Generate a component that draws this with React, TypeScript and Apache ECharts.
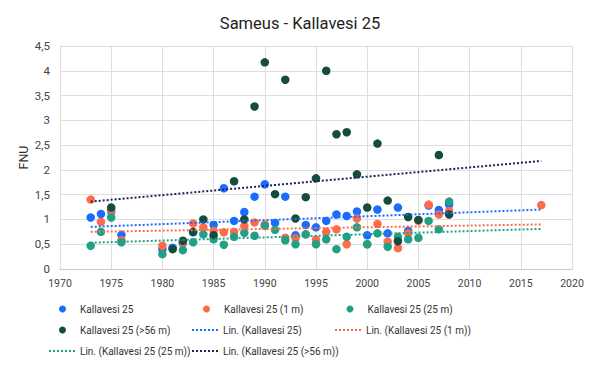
import React, { useEffect, useRef } from "react";
import * as echarts from "echarts";

const titleText = "Sameus - Kallavesi 25";
const yAxisName = "FNU";

const blueYears = [1973, 1974, 1975, 1976, 1980, 1981, 1982, 1983, 1985, 1986, 1987, 1988, 1989, 1990, 1991, 1992, 1993, 1994, 1995, 1996, 1997, 1998, 1999, 2000, 2001, 2002, 2003, 2004, 2006, 2007, 2008];
const blueValues = [1.04, 1.11, 1.16, 0.69, 0.40, 0.43, 0.52, 0.74, 0.89, 1.63, 0.97, 1.15, 1.46, 1.71, 0.93, 1.46, 0.68, 0.89, 0.84, 0.97, 1.10, 1.07, 1.16, 0.68, 1.20, 0.72, 1.24, 0.77, 1.28, 1.19, 1.30];

const orangeYears = [1973, 1974, 1975, 1976, 1980, 1982, 1983, 1984, 1985, 1986, 1987, 1988, 1989, 1990, 1992, 1993, 1994, 1995, 1996, 1997, 1998, 1999, 2000, 2001, 2002, 2003, 2004, 2005, 2006, 2007, 2008, 2017];
const orangeValues = [1.40, 0.95, 1.19, 0.58, 0.47, 0.53, 0.92, 0.84, 0.77, 0.74, 0.75, 0.87, 0.94, 0.90, 0.63, 0.62, 0.70, 0.59, 0.75, 0.80, 0.50, 1.02, 0.50, 0.91, 0.55, 0.42, 0.72, 0.97, 1.30, 1.10, 1.17, 1.29];

const tealYears = [1973, 1974, 1975, 1976, 1980, 1982, 1983, 1984, 1985, 1986, 1987, 1988, 1989, 1990, 1991, 1992, 1993, 1994, 1995, 1996, 1997, 1998, 1999, 2000, 2001, 2002, 2003, 2004, 2005, 2006, 2007, 2008];
const tealValues = [0.47, 0.75, 1.04, 0.54, 0.30, 0.38, 0.54, 0.70, 0.60, 0.49, 0.65, 0.73, 0.67, 0.87, 0.79, 0.58, 0.50, 0.70, 0.50, 0.60, 0.40, 0.65, 0.84, 0.50, 0.72, 0.45, 0.65, 0.60, 0.63, 0.97, 0.80, 1.36];

const darkYears = [1975, 1981, 1982, 1983, 1984, 1985, 1987, 1988, 1989, 1990, 1991, 1992, 1993, 1994, 1995, 1996, 1997, 1998, 1999, 2000, 2001, 2002, 2003, 2004, 2005, 2007, 2008];
const darkValues = [1.24, 0.40, 0.57, 0.75, 1.00, 0.68, 1.77, 1.00, 3.28, 4.17, 1.51, 3.82, 1.02, 1.45, 1.83, 4.00, 2.72, 2.76, 1.91, 1.24, 2.53, 1.38, 0.56, 1.05, 0.99, 2.30, 1.10];

const trendYears = [1973, 2017];
const trendBlue = [0.85, 1.20];
const trendOrange = [0.75, 0.90];
const trendTeal = [0.53, 0.81];
const trendDark = [1.36, 2.18];

const names = [
  "Kallavesi 25",
  "Kallavesi 25 (1 m)",
  "Kallavesi 25 (25 m)",
  "Kallavesi 25 (>56 m)",
  "Lin. (Kallavesi 25)",
  "Lin. (Kallavesi 25 (1 m))",
  "Lin. (Kallavesi 25 (25 m))",
  "Lin. (Kallavesi 25 (>56 m))",
];

const colBlue = "#1a6cff";
const colOrange = "#ff6b4a";
const colTeal = "#22a085";
const colDark = "#164c3e";
const colNavy = "#1c2456";

const pairs = (xs: number[], ys: number[]) => xs.map((x, i) => [x, ys[i]]);

const dottedIcon =
  "path://" +
  [0, 4, 8, 12, 16, 20, 24].map((x) => `M${x},0 h2 v2 h-2 Z`).join(" ");

export default function App() {
  const ref = useRef<HTMLDivElement>(null);
  useEffect(() => {
    if (!ref.current) return;
    const chart = echarts.init(ref.current, undefined, { renderer: "svg" });
    const font = "Roboto, Arial, sans-serif";
    const scatter = (name: string, data: number[][], color: string) => ({
      name,
      type: "scatter",
      data,
      symbolSize: 8.5,
      itemStyle: { color, opacity: 1 },
    });
    const trend = (name: string, data: number[][], color: string) => ({
      name,
      type: "line",
      data,
      symbol: "none",
      lineStyle: { color, width: 2, type: [2, 2] },
      itemStyle: { color },
    });
    const legendPos = [
      [59, 304, true],
      [203, 304, true],
      [346.5, 304, true],
      [59, 325, true],
      [192, 325, false],
      [335, 325, false],
      [49, 346, false],
      [192, 346, false],
    ];
    const legends = names.map((n, i) => {
      const [left, top, isDot] = legendPos[i] as [number, number, boolean];
      return {
        data: [n],
        left: left - 5,
        top: top - 5,
        padding: 5,
        icon: isDot ? "circle" : dottedIcon,
        itemWidth: isDot ? 7 : 26,
        itemHeight: isDot ? 7 : 2,
        textStyle: {
          fontFamily: font,
          fontSize: 10,
          color: "#333",
          padding: isDot ? [0, 0, 0, 9] : 0,
        },
      };
    });
    chart.setOption({
      animation: false,
      title: {
        text: titleText,
        left: "center",
        top: 10,
        textStyle: { fontFamily: font, fontSize: 16.5, fontWeight: "normal", color: "#222" },
      },
      grid: { left: 60, right: 28, top: 46, bottom: 99 },
      legend: legends,
      xAxis: {
        type: "value",
        min: 1970,
        max: 2020,
        interval: 5,
        axisLine: { show: true, lineStyle: { color: "#c8c8c8" } },
        axisTick: { show: false },
        splitLine: { show: true, lineStyle: { color: "#dedede" } },
        axisLabel: {
          fontFamily: font,
          fontSize: 10.5,
          color: "#444",
          margin: 9,
          formatter: (v: number) => String(v),
        },
      },
      yAxis: {
        type: "value",
        min: 0,
        max: 4.5,
        interval: 0.5,
        name: yAxisName,
        nameLocation: "middle",
        nameGap: 30,
        nameMoveOverlap: false,
        nameTextStyle: { fontFamily: font, fontSize: 12.5, color: "#333" },
        axisLine: { show: true, lineStyle: { color: "#dedede" } },
        axisTick: { show: false },
        splitLine: { show: true, lineStyle: { color: "#dedede" } },
        axisLabel: {
          fontFamily: font,
          fontSize: 11.5,
          color: "#444",
          margin: 10,
          formatter: (v: number) => String(v).replace(".", ","),
        },
      },
      series: [
        scatter(names[0], pairs(blueYears, blueValues), colBlue),
        scatter(names[1], pairs(orangeYears, orangeValues), colOrange),
        scatter(names[2], pairs(tealYears, tealValues), colTeal),
        scatter(names[3], pairs(darkYears, darkValues), colDark),
        trend(names[4], pairs(trendYears, trendBlue), colBlue),
        trend(names[5], pairs(trendYears, trendOrange), colOrange),
        trend(names[6], pairs(trendYears, trendTeal), colTeal),
        trend(names[7], pairs(trendYears, trendDark), colNavy),
      ],
    });
    return () => chart.dispose();
  }, []);
  return <div ref={ref} style={{ width: 600, height: 368, position: "absolute", left: 0, top: 0 }} />;
}
